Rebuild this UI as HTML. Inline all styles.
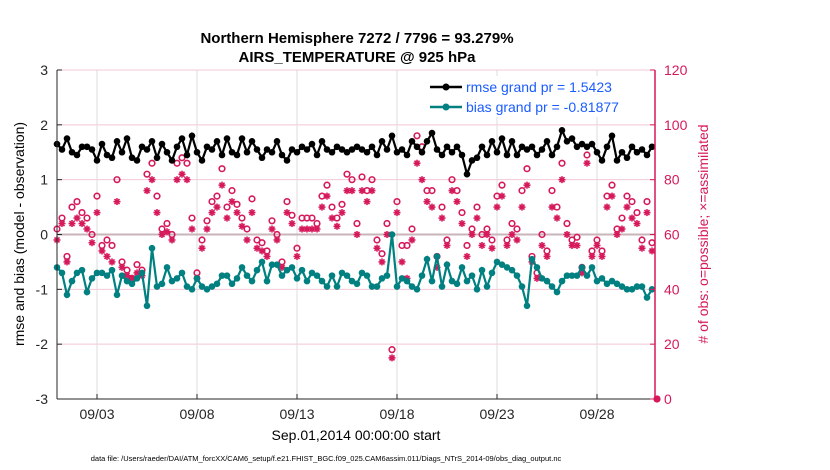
<!DOCTYPE html>
<html><head><meta charset="utf-8">
<style>
body{margin:0;background:#fff;}
svg{display:block;font-family:"Liberation Sans",Arial,sans-serif;}
</style></head>
<body>
<svg id="chart" width="830" height="470" viewBox="0 0 830 470" xmlns="http://www.w3.org/2000/svg">
<text x="357" y="43" text-anchor="middle" font-size="15" font-weight="bold">Northern Hemisphere 7272 / 7796 = 93.279%</text>
<text x="357" y="62" text-anchor="middle" font-size="15" font-weight="bold">AIRS_TEMPERATURE @ 925 hPa</text>
<g id="grid"></g>
<g id="marks"></g>
<g id="axes"></g>
<text transform="translate(24,234) rotate(-90)" text-anchor="middle" font-size="14">rmse and bias (model - observation)</text>
<text transform="translate(708,234) rotate(-90)" text-anchor="middle" font-size="14" fill="#d6195b">#  of obs: o=possible; ×=assimilated</text>
<text x="356" y="440" text-anchor="middle" font-size="14">Sep.01,2014 00:00:00 start</text>
<text x="326" y="461" text-anchor="middle" font-size="7.5">data file: /Users/raeder/DAI/ATM_forcXX/CAM6_setup/f.e21.FHIST_BGC.f09_025.CAM6assim.011/Diags_NTrS_2014-09/obs_diag_output.nc</text>
<g>
<rect x="425" y="76" width="220" height="41" fill="#fff" stroke="none"/>
<line x1="430" y1="87" x2="462" y2="87" stroke="#000" stroke-width="2.5"/><circle cx="446" cy="87" r="3.5" fill="#000"/>
<text x="466" y="92" font-size="14" fill="#1a5cff">rmse grand pr = 1.5423</text>
<line x1="430" y1="107" x2="462" y2="107" stroke="#008080" stroke-width="2.5"/><circle cx="446" cy="107" r="3.5" fill="#008080"/>
<text x="466" y="112" font-size="14" fill="#1a5cff">bias grand pr = -0.81877</text>
</g>
</svg>
<script>
const xTickLabels=["09/03","09/08","09/13","09/18","09/23","09/28"];
const xTickDays=[2,7,12,17,22,27];
const leftTicks=[3,2,1,0,-1,-2,-3];
const rightTicks=[120,100,80,60,40,20,0];
const rmse=[1.65,1.55,1.75,1.5,1.45,1.6,1.6,1.55,1.35,1.65,1.45,1.4,1.7,1.5,1.75,1.4,1.35,1.6,1.55,1.7,1.4,1.65,1.5,1.35,1.6,1.75,1.45,1.8,1.5,1.35,1.6,1.55,1.7,1.45,1.75,1.5,1.45,1.75,1.5,1.7,1.55,1.4,1.55,1.5,1.7,1.45,1.35,1.55,1.5,1.6,1.55,1.65,1.45,1.7,1.55,1.5,1.6,1.55,1.5,1.55,1.6,1.55,1.5,1.6,1.45,1.7,1.55,1.8,1.5,1.55,1.45,1.7,1.6,1.5,1.7,1.85,1.55,1.45,1.6,1.5,1.6,1.45,1.1,1.35,1.4,1.6,1.45,1.7,1.5,1.75,1.45,1.7,1.45,1.6,1.55,1.6,1.45,1.55,1.7,1.45,1.6,1.9,1.7,1.75,1.6,1.65,1.6,1.65,1.5,1.35,1.6,1.8,1.35,1.5,1.4,1.6,1.5,1.55,1.45,1.6];
const bias=[-0.6,-0.7,-1.1,-0.85,-0.7,-0.65,-1.05,-0.8,-0.7,-0.7,-0.75,-0.65,-1.1,-0.75,-0.85,-0.9,-0.8,-0.7,-1.3,-0.25,-0.95,-0.9,-0.6,-0.85,-0.8,-0.7,-0.95,-1.0,-0.8,-0.95,-1.0,-0.95,-0.9,-0.75,-0.75,-0.9,-0.8,-0.6,-0.75,-0.85,-0.65,-0.5,-0.85,-0.55,-0.55,-0.75,-0.65,-0.6,-0.8,-0.65,-0.85,-0.7,-0.75,-0.85,-0.95,-0.75,-0.95,-0.7,-0.75,-0.85,-0.9,-0.7,-0.75,-0.95,-0.95,-0.8,-0.75,0.0,-0.95,-0.8,-0.85,-0.95,-1.0,-0.75,-0.45,-0.85,-0.4,-0.95,-0.55,-0.85,-0.9,-0.6,-0.85,-0.75,-1.0,-0.65,-0.95,-0.7,-0.5,-0.55,-0.6,-0.65,-0.75,-0.95,-1.3,-0.45,-0.6,-0.8,-0.85,-0.95,-1.05,-0.85,-0.75,-0.75,-0.75,-0.6,-0.75,-0.6,-0.85,-0.8,-0.9,-0.85,-0.9,-0.95,-1.0,-1.0,-0.95,-0.95,-1.15,-1.0];
const possible=[62,66,52,70,72,68,66,60,74,56,58,56,80,50,47,44,49,47,82,86,74,62,64,60,86,88,86,66,46,58,65,72,74,84,70,76,71,66,62,73,58,57,54,65,60,50,72,67,55,66,66,66,64,74,78,70,66,71,82,80,64,81,76,80,58,53,64,18,72,56,56,62,96,92,76,76,52,70,58,80,76,68,56,62,70,60,62,58,74,78,58,64,62,76,84,52,46,60,54,76,70,86,64,58,59,48,89,54,58,54,74,78,62,66,74,72,68,58,72,57,0];
const assimilated=[58,64,50,64,66,64,62,57,68,54,52,50,72,48,45,44,46,45,76,80,68,60,61,58,80,82,80,62,44,55,62,68,70,78,66,72,68,63,58,68,55,54,52,62,58,48,68,64,52,62,62,62,62,70,74,66,63,68,76,76,60,76,72,76,55,50,60,15,68,50,44,58,86,80,72,70,48,66,56,76,72,64,52,60,66,56,60,55,70,74,56,60,58,70,78,50,44,56,52,70,66,80,60,56,56,46,86,52,56,52,70,74,60,62,70,66,64,55,68,54,0];

const NS="http://www.w3.org/2000/svg";
const X0=57,X1=655,Y0=70,Y1=399;
function xs(day){return X0+day*20;}
function yl(v){return Y0+(3-v)*(Y1-Y0)/6;}
function yr(v){return Y0+(120-v)*(Y1-Y0)/120;}
function mk(tag,attrs,parent){const e=document.createElementNS(NS,tag);for(const k in attrs)e.setAttribute(k,attrs[k]);parent.appendChild(e);return e;}
const grid=document.getElementById('grid'),marks=document.getElementById('marks'),axes=document.getElementById('axes');

rightTicks.forEach(v=>{const l=mk('line',{x1:X0,x2:X1,y1:yr(v),y2:yr(v),stroke:'#f2c8d6','stroke-width':1},grid);

});
xTickDays.forEach(d=>{const l=mk('line',{x1:xs(d),x2:xs(d),y1:Y0,y2:Y1,stroke:'#dcdcdc','stroke-width':1},grid);

});
const zl=mk('line',{x1:X0,x2:X1,y1:yl(0),y2:yl(0),stroke:'#c8b4b9','stroke-width':2},grid);



possible.forEach((v,i)=>{const c=mk('circle',{cx:xs(i*0.25),cy:yr(v),r:2.8,fill:'none',stroke:'#d6195b','stroke-width':1.6},marks);

});
assimilated.forEach((v,i)=>{const x=xs(i*0.25),y=yr(v);const g=mk('g',{stroke:'#d6195b','stroke-width':1.6},marks);


mk('line',{x1:x-3.5,x2:x+3.5,y1:y,y2:y},g);mk('line',{x1:x,x2:x,y1:y-3.5,y2:y+3.5},g);
mk('line',{x1:x-2.5,x2:x+2.5,y1:y-2.5,y2:y+2.5},g);mk('line',{x1:x-2.5,x2:x+2.5,y1:y+2.5,y2:y-2.5},g);});

function series(arr,color,name){
 const pts=arr.map((v,i)=>xs(i*0.25)+','+yl(v)).join(' ');
 const pl=mk('polyline',{points:pts,fill:'none',stroke:color,'stroke-width':2.2},marks);
 
 
 arr.forEach((v,i)=>{const c=mk('circle',{cx:xs(i*0.25),cy:yl(v),r:3.3,fill:color},marks);
 
 });
}
series(bias,'#008080','bias');
series(rmse,'#000000','rmse');

const la=mk('line',{x1:X0,x2:X0,y1:Y0,y2:Y1,stroke:'#262626','stroke-width':1},axes);


const ba=mk('line',{x1:X0,x2:X1,y1:Y1,y2:Y1,stroke:'#262626','stroke-width':1},axes);


const ra=mk('line',{x1:X1,x2:X1,y1:Y0,y2:Y1,stroke:'#d6195b','stroke-width':1.5},axes);


leftTicks.forEach(v=>{mk('line',{x1:X0,x2:X0+5,y1:yl(v),y2:yl(v),stroke:'#262626'},axes);
const t=mk('text',{x:X0-9,y:yl(v)+5,'text-anchor':'end','font-size':14,fill:'#262626'},axes);t.textContent=v;

});
rightTicks.forEach(v=>{mk('line',{x1:X1-5,x2:X1,y1:yr(v),y2:yr(v),stroke:'#d6195b'},axes);
const t=mk('text',{x:X1+9,y:yr(v)+5,'font-size':14,fill:'#d6195b'},axes);t.textContent=v;

});
xTickDays.forEach((d,i)=>{mk('line',{x1:xs(d),x2:xs(d),y1:Y1,y2:Y1-5,stroke:'#262626'},axes);
const t=mk('text',{x:xs(d),y:Y1+20,'text-anchor':'middle','font-size':14,fill:'#262626'},axes);t.textContent=xTickLabels[i];

});
</script>
</body></html>
